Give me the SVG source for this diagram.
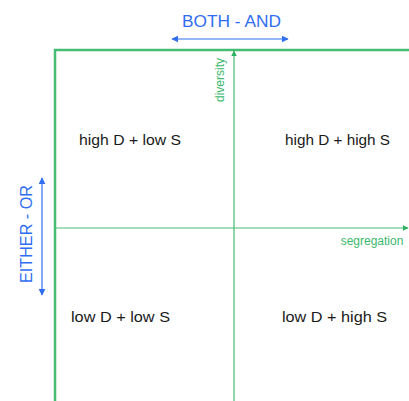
<svg xmlns="http://www.w3.org/2000/svg" width="409" height="401" viewBox="0 0 409 401">
  <style>
    .frame { stroke: #45bd74; stroke-width: 2.5; fill: none; }
    .axis { stroke: #45bd74; stroke-width: 1.2; fill: none; }
    .axlabel { font-family: "Liberation Sans", Arial, sans-serif; font-size: 12px; fill: #3cb86c; }
    .quad { font-family: "Liberation Sans", Arial, sans-serif; font-size: 15px; fill: #1a1a1a; }
    .dim { font-family: "Liberation Sans", Arial, sans-serif; font-size: 16.5px; fill: #2f6ef2; }
    .dimline { stroke: #2f6ef2; stroke-width: 1.2; fill: none; }
  </style>
  <defs>
    <marker id="greenHead" viewBox="0 0 10 10" refX="9" refY="5" markerWidth="6" markerHeight="6" markerUnits="userSpaceOnUse" orient="auto">
      <path d="M0,0 L10,5 L0,10 Z" fill="#2db35f"/>
    </marker>
    <marker id="blueHead" viewBox="0 0 10 10" refX="9" refY="5" markerWidth="7" markerHeight="7" markerUnits="userSpaceOnUse" orient="auto-start-reverse">
      <path d="M0,0 L10,5 L0,10 Z" fill="#2f6ef2"/>
    </marker>
  </defs>
  <rect width="409" height="401" fill="#ffffff"/>

  <!-- chart frame and axes -->
  <g id="connectors">
    <path class="frame" d="M55,401 V50 H409"/>
    <line class="axis" x1="234" y1="401" x2="234" y2="51" marker-end="url(#greenHead)"/>
    <line class="axis" x1="55" y1="228" x2="408" y2="228" marker-end="url(#greenHead)"/>
    <line class="dimline" x1="172" y1="39" x2="288" y2="39" marker-start="url(#blueHead)" marker-end="url(#blueHead)"/>
    <line class="dimline" x1="42" y1="178" x2="42" y2="295" marker-start="url(#blueHead)" marker-end="url(#blueHead)"/>
  </g>

  <!-- axis labels -->
  <g id="axis-diversity">
    <text class="axlabel" transform="translate(224,80) rotate(-90)" text-anchor="middle">diversity</text>
  </g>
  <g id="axis-segregation">
    <text class="axlabel" x="372" y="245" text-anchor="middle">segregation</text>
  </g>

  <!-- dimension labels -->
  <g id="both-and">
    <text class="dim" x="231.5" y="27" text-anchor="middle" textLength="99" lengthAdjust="spacingAndGlyphs">BOTH - AND</text>
  </g>
  <g id="either-or">
    <text class="dim" transform="translate(32,234) rotate(-90)" text-anchor="middle" textLength="98" lengthAdjust="spacingAndGlyphs">EITHER - OR</text>
  </g>

  <!-- quadrants -->
  <g id="q-high-low">
    <text class="quad" x="79" y="145" textLength="102" lengthAdjust="spacingAndGlyphs">high D + low S</text>
  </g>
  <g id="q-high-high">
    <text class="quad" x="285" y="145" textLength="105" lengthAdjust="spacingAndGlyphs">high D + high S</text>
  </g>
  <g id="q-low-low">
    <text class="quad" x="71" y="322" textLength="99" lengthAdjust="spacingAndGlyphs">low D + low S</text>
  </g>
  <g id="q-low-high">
    <text class="quad" x="282" y="322" textLength="105" lengthAdjust="spacingAndGlyphs">low D + high S</text>
  </g>
</svg>
